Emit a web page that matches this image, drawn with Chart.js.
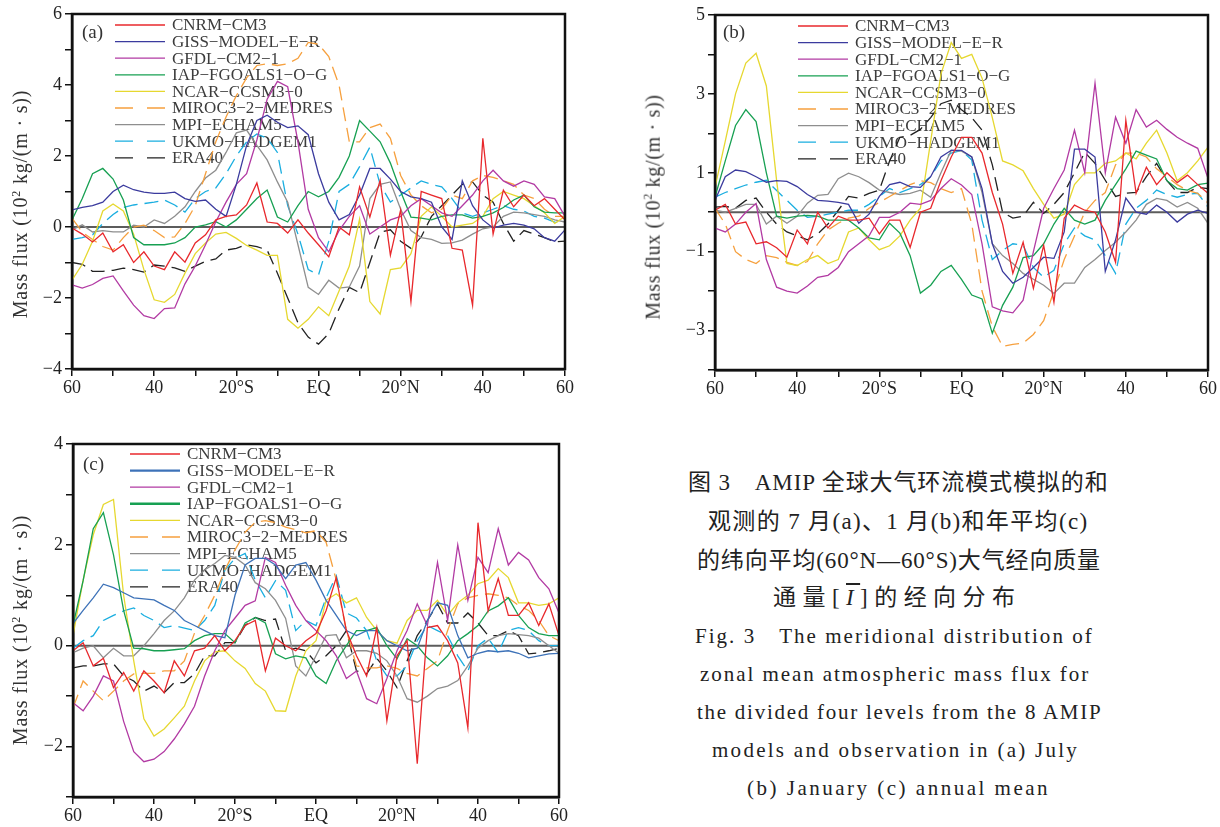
<!DOCTYPE html>
<html><head><meta charset="utf-8">
<script src="https://cdn.jsdelivr.net/npm/chart.js@4.4.1/dist/chart.umd.min.js"></script>
<style>
html,body{margin:0;padding:0;background:#fff}
body{width:1220px;height:827px;position:relative;overflow:hidden;font-family:"Liberation Serif","Times New Roman",serif;color:#222}
canvas{position:absolute}
.yt{position:absolute;white-space:nowrap;font-family:"Liberation Serif",serif;font-size:20px;line-height:22px;color:#333;transform-origin:center center}
.yt sup{font-size:12px;line-height:0}
.cap{position:absolute;white-space:nowrap;line-height:28px;color:#222}
.zh{font-family:"Liberation Serif","Noto Sans CJK SC",serif;font-size:23px}
.en{font-family:"Liberation Serif",serif;font-size:21px}
</style></head><body>
<canvas id="ca" width="590" height="400" style="left:0;top:0"></canvas>
<canvas id="cb" width="590" height="400" style="left:630px;top:0"></canvas>
<canvas id="cc" width="590" height="407" style="left:0;top:420px"></canvas>

<div class="yt" data-cx="20" data-cy="204" data-l="228">Mass flux (10<sup>2</sup> kg/(m · s))</div>
<div class="yt" data-cx="652" data-cy="207" data-l="225">Mass flux (10<sup>2</sup> kg/(m · s))</div>
<div class="yt" data-cx="20" data-cy="630" data-l="230">Mass flux (10<sup>2</sup> kg/(m · s))</div>

<div class="cap zh" data-x="688" data-y="483" data-w="420">图 3　AMIP 全球大气环流模式模拟的和</div>
<div class="cap zh" data-x="708" data-y="522" data-w="379">观测的 7 月(a)、1 月(b)和年平均(c)</div>
<div class="cap zh" data-x="697" data-y="561" data-w="403">的纬向平均(60°N—60°S)大气经向质量</div>
<div class="cap zh" data-x="773" data-y="598" data-w="242">通量[<span style="font-style:italic;text-decoration:overline">I</span>]的经向分布</div>
<div class="cap en" data-x="695" data-y="636" data-w="397">Fig. 3　The meridional distribution of</div>
<div class="cap en" data-x="700" data-y="674" data-w="388">zonal mean atmospheric mass flux for</div>
<div class="cap en" data-x="697" data-y="712" data-w="404">the divided four levels from the 8 AMIP</div>
<div class="cap en" data-x="712" data-y="750" data-w="365">models and observation in (a) July</div>
<div class="cap en" data-x="747" data-y="788" data-w="301">(b) January (c) annual mean</div>

<script>
// ---------- data ----------
const lat = [-60,-57.5,-55,-52.5,-50,-47.5,-45,-42.5,-40,-37.5,-35,-32.5,-30,-27.5,-25,-22.5,-20,-17.5,-15,-12.5,-10,-7.5,-5,-2.5,0,2.5,5,7.5,10,12.5,15,17.5,20,22.5,25,27.5,30,32.5,35,37.5,40,42.5,45,47.5,50,52.5,55,57.5,60];
const models = ['CNRM\u2212CM3','GISS\u2212MODEL\u2212E\u2212R','GFDL\u2212CM2\u22121','IAP\u2212FGOALS1\u2212O\u2212G','NCAR\u2212CCSM3\u22120','MIROC3\u22122\u2212MEDRES','MPI\u2212ECHAM5','UKMO\u2212HADGEM1','ERA40'];
const xTickValues = [-60,-40,-20,0,20,40,60];
const xTickText = ['60','40','20°S','EQ','20°N','40','60'];
const yLabelsA = [6,4,2,0,-2,-4];
const yLabelsB = [5,3,1,-1,-3];
const yLabelsC = [4,2,0,-2];

// (a) July
const a_CNRM = [-0.03,-0.2,-0.42,-0.17,-0.7,-0.5,-1.0,-0.7,-1.1,-1.2,-0.7,-0.99,-0.45,-0.22,0.2,0.3,0.34,0.62,1.24,0.14,0.1,-0.17,0.2,-0.17,-0.5,-0.84,0.0,-0.22,1.13,0.28,1.32,-0.79,0.48,-2.1,1.0,0.9,0.8,-0.6,-0.65,-2.2,2.5,-0.2,1.04,0.57,0.9,0.6,0.8,0.5,0.2];
const a_GISS = [0.48,0.55,0.6,0.7,1.0,1.18,1.05,0.98,0.95,0.95,0.98,0.8,0.72,0.76,0.5,0.3,1.2,2.3,3.0,3.15,2.95,2.8,2.85,2.6,1.5,0.7,0.2,0.35,0.9,1.65,1.65,1.35,1.0,0.85,0.8,0.7,0.0,-0.35,1.3,0.6,0.2,-0.03,0.05,0.1,0.05,-0.05,-0.3,-0.4,-0.08];
const a_GFDL = [-1.63,-1.72,-1.62,-1.45,-1.38,-1.8,-2.2,-2.5,-2.58,-2.3,-2.28,-1.6,-1.1,-0.5,0.15,0.7,1.2,1.5,2.45,3.6,4.1,3.95,2.4,0.5,-0.3,-0.7,-0.1,0.3,0.6,-0.2,0.0,0.2,0.3,0.6,0.8,0.6,0.4,0.3,0.6,0.9,1.3,1.6,1.3,1.15,1.3,1.2,0.85,0.8,0.3];
const a_IAP = [0.2,0.8,1.5,1.65,1.35,0.76,-0.3,-0.5,-0.5,-0.5,-0.45,-0.3,0.0,0.06,0.15,0.0,0.2,0.5,0.8,1.04,0.28,0.14,0.6,1.0,0.85,1.0,1.4,2.0,3.0,2.7,2.4,1.8,1.0,0.28,0.25,0.2,0.3,0.34,0.34,0.25,0.3,0.4,0.55,0.76,0.9,0.57,0.42,0.4,0.4];
const a_NCAR = [-1.5,-1.05,-0.4,0.45,0.65,0.45,-0.2,-1.2,-2.05,-2.12,-1.9,-1.3,-0.75,-0.45,-0.2,-0.15,-0.32,-0.52,-0.65,-0.8,-0.8,-2.6,-2.85,-2.6,-2.25,-2.5,-1.8,-1.1,0.22,-2.1,-2.45,-1.2,-1.15,-0.75,0.3,0.57,0.3,0.0,0.05,0.1,0.3,0.8,1.0,0.9,0.8,0.6,0.4,0.1,0.3];
const a_MIROC = [0.25,-0.15,-0.35,-0.55,-0.65,-0.3,0.0,0.05,-0.1,-0.3,-0.28,0.1,0.6,1.5,2.4,3.1,3.7,4.2,4.55,4.6,4.55,4.6,4.75,5.2,5.15,4.8,4.0,2.4,2.4,2.8,2.9,2.5,1.45,0.9,0.6,0.4,0.5,0.9,0.8,1.3,1.45,1.4,1.3,1.2,0.9,0.8,0.5,0.3,0.3];
const a_MPI = [-0.08,0.06,-0.14,-0.1,-0.14,-0.14,0.05,0.0,0.2,0.1,0.3,0.57,1.0,1.38,1.6,2.1,2.65,2.73,2.3,1.89,1.27,0.7,-0.5,-1.7,-1.9,-1.5,-1.72,-1.69,-1.1,0.8,1.2,1.27,0.5,-0.1,-0.3,-0.35,-0.46,-0.45,-0.37,-0.2,-0.05,0.0,0.3,0.42,0.4,0.35,0.3,0.2,0.14];
const a_UKMO = [-0.35,-0.3,-0.22,0.1,0.35,0.55,0.62,0.66,0.7,0.76,0.62,0.42,0.8,1.0,1.1,1.5,2.0,2.4,2.62,2.5,2.1,0.6,-0.2,-1.2,-1.35,-0.4,1.0,1.2,1.7,2.25,1.2,0.7,0.9,1.1,1.3,1.2,1.13,0.8,0.4,0.3,0.4,0.5,0.6,0.5,0.45,0.3,0.25,0.14,0.1];
const a_ERA = [-1.0,-1.05,-1.25,-1.25,-1.22,-1.16,-1.2,-1.27,-1.07,-1.1,-1.15,-1.25,-1.1,-0.97,-0.9,-0.65,-0.6,-0.5,-0.55,-0.65,-1.3,-2.0,-2.7,-3.1,-3.3,-3.0,-2.3,-1.7,-1.85,-1.0,-0.15,-0.08,-0.4,-0.6,-0.28,0.3,0.6,0.9,1.2,1.27,0.9,0.7,0.1,-0.4,-0.1,-0.2,-0.3,-0.42,-0.4];

// (b) January
const b_CNRM = [0.05,0.2,-0.3,-0.25,-0.8,-0.75,-0.9,-1.14,-0.45,-0.8,0.0,-0.4,-0.1,-0.2,-0.2,-0.15,-0.55,-0.2,-0.2,-0.89,0.0,0.1,0.8,1.4,1.9,1.9,1.5,0.5,-0.3,-1.55,-0.76,-1.93,-0.84,-2.28,-0.15,0.18,0.05,0.0,-0.5,-1.27,2.33,0.48,1.14,0.7,1.0,0.75,0.94,0.7,0.48];
const b_GISS = [0.3,0.9,1.07,1.03,0.9,0.76,0.8,0.78,0.65,0.45,0.3,0.28,0.25,0.2,-0.28,-0.05,0.4,0.7,0.76,0.65,0.63,0.9,1.4,1.57,1.57,1.4,0.6,-0.8,-1.5,-1.8,-1.65,-1.4,-1.14,-1.17,-0.5,1.6,1.6,1.4,-1.5,-0.7,0.36,0.0,-0.05,0.18,0.0,-0.25,-0.05,0.05,-0.03];
const b_GFDL = [-0.4,-0.5,-0.3,0.0,0.22,-1.2,-1.9,-2.0,-2.05,-1.87,-1.65,-1.6,-1.4,-1.0,-0.8,-0.6,-0.13,-0.13,0.0,0.23,0.2,0.3,0.6,0.85,0.69,0.45,-0.8,-2.4,-2.5,-2.55,-2.23,-1.0,0.1,0.6,1.07,2.08,1.0,3.27,1.0,2.41,1.75,2.6,2.16,2.33,2.1,1.9,1.75,1.62,0.86];
const b_IAP = [0.38,1.3,2.2,2.6,2.3,1.0,-0.1,-0.15,-0.1,-0.08,-0.1,-0.2,-0.2,-0.2,-0.4,-0.65,-0.7,-0.28,-0.53,-1.1,-2.05,-1.85,-1.5,-1.35,-1.7,-2.1,-2.2,-3.07,-2.36,-1.9,-1.15,-1.1,-0.8,-0.3,0.1,-0.2,-0.3,-0.2,0.3,0.7,1.1,1.55,1.45,1.35,0.8,0.6,0.56,0.7,0.74];
const b_NCAR = [0.63,1.8,3.0,3.78,4.03,3.2,0.8,-1.3,-1.35,-1.2,-1.1,-1.3,-1.2,-0.5,-0.4,-0.7,-0.95,-0.85,-0.6,-0.2,0.1,1.8,3.5,4.3,3.9,4.0,3.4,2.4,1.3,1.2,1.05,0.6,0.2,-0.15,-0.05,0.7,1.0,1.0,1.24,1.3,1.5,1.35,1.75,2.08,1.5,0.8,1.0,1.3,1.65];
const b_MIROC = [0.1,-0.3,-1.0,-1.2,-1.3,-1.1,-1.15,-1.27,-1.35,-1.25,-0.8,-0.45,-0.28,-0.15,-0.1,0.1,0.25,0.4,0.55,0.7,0.8,0.75,0.6,0.5,0.6,-0.3,-2.0,-2.9,-3.4,-3.35,-3.32,-3.1,-2.75,-2.0,-1.2,-0.6,0.0,0.3,0.5,1.2,1.5,1.5,1.4,1.1,0.9,0.7,0.55,0.48,0.23];
const b_MPI = [0.05,0.0,0.1,0.2,0.2,-0.3,-0.1,-0.28,-0.1,0.23,0.43,0.45,0.85,0.99,0.9,0.75,0.56,0.5,0.45,0.48,0.56,0.38,1.0,1.57,1.55,1.4,0.5,-0.8,-1.1,-1.3,-1.55,-1.7,-1.85,-2.06,-1.8,-1.8,-1.4,-1.2,-0.97,-0.76,-0.5,-0.2,0.2,0.35,0.3,0.13,0.25,0.1,-0.28];
const b_UKMO = [0.38,0.5,0.6,0.69,0.76,0.81,0.55,0.3,0.05,-0.13,-0.1,-0.05,0.0,0.05,0.05,0.2,0.4,0.6,0.5,0.6,0.7,0.9,1.3,1.5,1.57,1.32,-0.2,-1.2,-0.97,-0.8,-0.84,-1.4,-1.65,-1.47,-0.8,-0.4,-0.6,-0.7,-1.1,-1.55,-0.3,0.1,0.3,0.56,0.45,0.38,0.45,0.48,0.13];
const b_ERA = [0.13,0.15,0.1,0.3,0.36,0.0,-0.3,-0.5,-0.6,-0.7,-0.55,-0.3,0.05,0.4,0.36,0.48,0.56,1.3,1.9,1.95,2.1,2.4,2.75,2.84,2.6,2.4,2.08,1.2,0.0,-0.15,-0.1,0.25,-0.03,0.2,0.5,1.0,1.52,1.24,0.81,0.4,0.48,0.5,0.9,1.24,0.8,0.5,0.5,0.63,0.6];

// (c) annual mean
const c_CNRM = [-0.1,0.06,-0.4,-0.25,-0.83,-0.53,-0.9,-0.5,-0.7,-0.93,-0.3,-0.6,-0.1,-0.05,0.2,-0.1,0.1,0.4,0.5,-0.5,0.15,0.0,-0.1,0.1,0.24,0.7,1.35,0.3,-0.2,-0.6,0.36,-1.49,-0.2,0.1,-2.34,0.36,0.4,0.1,-0.34,-1.63,2.44,0.69,1.33,0.6,0.6,0.85,0.4,0.83,0.2];
const c_GISS = [0.44,0.7,0.95,1.22,1.15,1.05,0.95,0.93,0.91,0.8,0.7,0.5,0.4,0.3,0.2,0.16,1.0,1.6,1.73,1.73,1.6,1.33,1.6,1.65,1.3,0.9,0.6,0.3,0.2,0.3,0.3,0.1,0.0,-0.1,-0.05,0.5,0.85,0.8,0.2,-0.24,-0.15,-0.1,-0.12,-0.1,-0.15,-0.24,-0.2,-0.16,-0.15];
const c_GFDL = [-1.13,-1.29,-1.0,-0.6,-0.7,-1.5,-2.1,-2.3,-2.25,-2.1,-1.85,-1.55,-1.2,-0.6,-0.1,0.3,0.55,0.8,0.89,1.75,1.65,1.2,0.8,0.5,0.3,0.1,-0.2,-0.65,-0.5,-1.05,-1.15,-0.65,-0.1,0.3,0.83,0.4,1.65,0.5,2.0,0.9,1.75,1.45,2.32,1.6,1.85,1.7,1.35,1.13,0.65];
const c_IAP = [0.4,1.29,2.32,2.64,1.8,0.7,-0.05,-0.06,-0.1,-0.1,-0.08,-0.06,0.1,0.2,0.24,0.24,0.06,0.45,0.56,0.45,-0.16,-0.26,-0.2,-0.24,-0.6,-0.75,-0.3,0.0,0.3,0.3,0.36,0.0,-0.26,0.14,0.0,-0.24,-0.4,-0.2,0.1,0.24,0.4,0.69,0.79,0.95,0.6,0.36,0.24,0.2,0.2];
const c_NCAR = [0.2,1.3,2.2,2.8,2.9,1.0,-0.3,-1.45,-1.79,-1.65,-1.43,-1.2,-0.7,-0.3,-0.12,-0.1,-0.3,-0.45,-0.75,-0.9,-1.29,-1.3,-0.6,-0.1,0.1,0.9,1.03,0.85,0.95,0.56,0.3,0.1,0.05,0.5,0.7,0.7,0.9,0.6,0.85,1.0,1.23,1.3,1.53,1.35,0.85,0.85,0.8,0.83,0.95];
const c_MIROC = [-1.23,-0.7,-0.9,-1.09,-0.9,-0.7,-0.56,-0.55,-0.55,-0.5,-0.5,-0.3,0.25,0.6,1.0,1.5,1.9,2.25,2.45,2.48,2.44,2.35,2.3,2.24,2.28,2.05,1.3,0.3,-0.4,-0.44,-0.44,-0.4,-0.45,-0.55,-0.6,-0.45,-0.3,0.3,0.83,0.95,1.0,1.03,1.0,0.95,0.8,0.7,0.5,0.2,0.1];
const c_MPI = [-0.14,-0.05,0.0,-0.24,-0.05,-0.2,-0.2,0.0,0.24,0.5,0.69,0.95,1.3,1.5,1.63,1.79,1.75,1.6,1.25,1.13,0.9,0.54,-0.4,-0.6,-0.2,0.2,0.22,-0.24,-0.1,-0.1,-0.15,-0.3,-0.6,-1.05,-1.12,-1.0,-0.85,-0.8,-0.69,-0.4,-0.05,0.1,0.2,0.24,0.22,0.2,0.15,0.0,-0.15];
const c_UKMO = [-0.05,0.1,0.2,0.5,0.6,0.69,0.75,0.6,0.5,0.36,0.4,0.35,0.3,0.5,0.8,1.5,1.73,1.83,1.3,0.95,1.29,1.1,0.3,0.5,0.4,0.95,1.39,0.65,0.55,0.3,-0.3,-0.6,-0.6,-0.4,0.1,0.4,0.3,0.2,-0.2,-0.5,0.0,0.15,-0.14,0.3,0.36,0.3,0.1,0.0,0.0];
const c_ERA = [-0.44,-0.4,-0.4,-0.36,-0.36,-0.6,-0.7,-0.9,-0.8,-0.93,-0.73,-0.73,-0.56,-0.2,-0.2,0.06,0.06,0.4,0.56,0.5,0.53,-0.1,-0.05,-0.1,-0.34,-0.2,0.0,0.3,-0.5,-0.56,-0.25,-0.5,-0.83,-0.3,0.2,0.5,0.83,0.45,0.45,0.65,0.45,0.2,0.2,0.3,0.2,-0.16,-0.14,-0.1,-0.05];

// ---------- styles ----------
const colorsAB = ['#e8282c','#3b3b9e','#b23aa3','#17a052','#e6d830','#f6a03e','#8e8e8e','#1aaee0','#222222'];
const colorsC  = ['#e8282c','#3d72b8','#b23aa3','#17a052','#e6d830','#f6a03e','#8e8e8e','#1aaee0','#222222'];
const dashed = [false,false,false,false,false,true,false,true,true];
const FONT = '"Liberation Serif","Times New Roman",serif';
const fmt = v => v < 0 ? '\u2212' + Math.abs(v) : String(v);

const deco = {
  id: 'deco',
  beforeDatasetsDraw(chart, args, o) {
    const {ctx, chartArea: a, scales: {y}} = chart;
    ctx.save();
    const y0 = y.getPixelForValue(0);
    ctx.strokeStyle = '#5c5c5c'; ctx.lineWidth = 2;
    ctx.beginPath(); ctx.moveTo(a.left, y0); ctx.lineTo(a.right, y0); ctx.stroke();
    ctx.fillStyle = '#333';
    ctx.font = '19px ' + FONT;
    ctx.textBaseline = 'middle'; ctx.textAlign = 'left';
    ctx.fillText(o.tag, a.left + o.tagX, a.top + o.tagY);
    ctx.font = '17px ' + FONT;
    chart.data.datasets.forEach((d, k) => {
      const yy = a.top + o.ly + k * o.ldy;
      ctx.strokeStyle = d.borderColor;
      ctx.lineWidth = (o.thick && o.thick[k]) ? 2.4 : 1.3;
      ctx.setLineDash(d.borderDash && d.borderDash.length ? [18, 14] : []);
      ctx.beginPath(); ctx.moveTo(a.left + o.lx, yy); ctx.lineTo(a.left + o.lx + 50, yy); ctx.stroke();
      ctx.setLineDash([]);
      ctx.fillStyle = '#3c3c3c';
      ctx.fillText(d.label, a.left + o.lx + 57, yy + 1);
    });
    ctx.restore();
  },
  afterDraw(chart) {
    const {ctx, chartArea: a} = chart;
    ctx.save();
    ctx.strokeStyle = '#111'; ctx.lineWidth = 2.5;
    ctx.strokeRect(a.left, a.top, a.right - a.left, a.bottom - a.top);
    ctx.restore();
  }
};

function makeChart(id, cfg) {
  const datasets = cfg.series.map((arr, k) => ({
    label: models[k],
    data: arr.map((v, i) => ({x: lat[i], y: v})),
    borderColor: cfg.colors[k],
    borderWidth: 1.3,
    borderDash: dashed[k] ? [14, 7] : [],
    pointRadius: 0, fill: false, tension: 0
  }));
  const tickFont = {family: FONT, size: 18};
  new Chart(document.getElementById(id), {
    type: 'line',
    data: {datasets},
    options: {
      responsive: false, animation: false, devicePixelRatio: 1,
      layout: {padding: {left: 0, top: cfg.padTop, right: cfg.padRight, bottom: 0}},
      plugins: {legend: {display: false}, tooltip: {enabled: false}, deco: cfg.deco},
      scales: {
        x: {
          type: 'linear', min: -60, max: 60,
          afterFit: s => { s.height = cfg.xh; },
          ticks: {stepSize: 10, autoSkip: false, maxRotation: 0, padding: 1, color: '#222', font: tickFont,
            callback: v => { const k = xTickValues.indexOf(v); return k >= 0 ? xTickText[k] : ''; }},
          grid: {drawOnChartArea: false, tickLength: 7, color: '#111', lineWidth: 1.5},
          border: {color: '#111', width: 2.5}
        },
        y: {
          min: cfg.ymin, max: cfg.ymax,
          afterFit: s => { s.width = cfg.yw; },
          ticks: {stepSize: 1, autoSkip: false, padding: 3, color: '#222', font: tickFont,
            callback: v => cfg.yLabels.includes(v) ? fmt(v) : ''},
          grid: {drawOnChartArea: false, tickLength: 7, color: '#111', lineWidth: 1.5},
          border: {color: '#111', width: 2.5}
        }
      }
    },
    plugins: [deco]
  });
}

makeChart('ca', {
  series: [a_CNRM, a_GISS, a_GFDL, a_IAP, a_NCAR, a_MIROC, a_MPI, a_UKMO, a_ERA],
  colors: colorsAB, ymin: -4, ymax: 6, yLabels: yLabelsA,
  padTop: 14, padRight: 25, yw: 72, xh: 31,
  deco: {tag: '(a)', tagX: 10, tagY: 19, lx: 43, ly: 11, ldy: 16.6}
});
makeChart('cb', {
  series: [b_CNRM, b_GISS, b_GFDL, b_IAP, b_NCAR, b_MIROC, b_MPI, b_UKMO, b_ERA],
  colors: colorsAB, ymin: -4, ymax: 5, yLabels: yLabelsB,
  padTop: 15, padRight: 12, yw: 85, xh: 30,
  deco: {tag: '(b)', tagX: 8, tagY: 18, lx: 83, ly: 11, ldy: 16.6}
});
makeChart('cc', {
  series: [c_CNRM, c_GISS, c_GFDL, c_IAP, c_NCAR, c_MIROC, c_MPI, c_UKMO, c_ERA],
  colors: colorsC, ymin: -3, ymax: 4, yLabels: yLabelsC,
  padTop: 24, padRight: 31, yw: 73, xh: 30,
  deco: {tag: '(c)', tagX: 10, tagY: 21, lx: 57, ly: 10, ldy: 16.6, thick: [false,true,false,true,false,false,false,false,false]}
});

// ---------- text layout ----------
function spread(el, target) {
  el.style.letterSpacing = '0px';
  const n = el.textContent.length;
  const w0 = el.offsetWidth;
  el.style.letterSpacing = ((target - w0) / Math.max(1, n - 1)) + 'px';
}
document.querySelectorAll('.yt').forEach(el => {
  spread(el, +el.dataset.l);
  const w = el.offsetWidth, h = el.offsetHeight;
  el.style.left = (+el.dataset.cx - w / 2) + 'px';
  el.style.top = (+el.dataset.cy - h / 2) + 'px';
  el.style.transform = 'rotate(-90deg)';
});
document.querySelectorAll('.cap').forEach(el => {
  spread(el, +el.dataset.w);
  el.style.left = el.dataset.x + 'px';
  el.style.top = (+el.dataset.y - el.offsetHeight / 2) + 'px';
});
</script>
</body></html>
